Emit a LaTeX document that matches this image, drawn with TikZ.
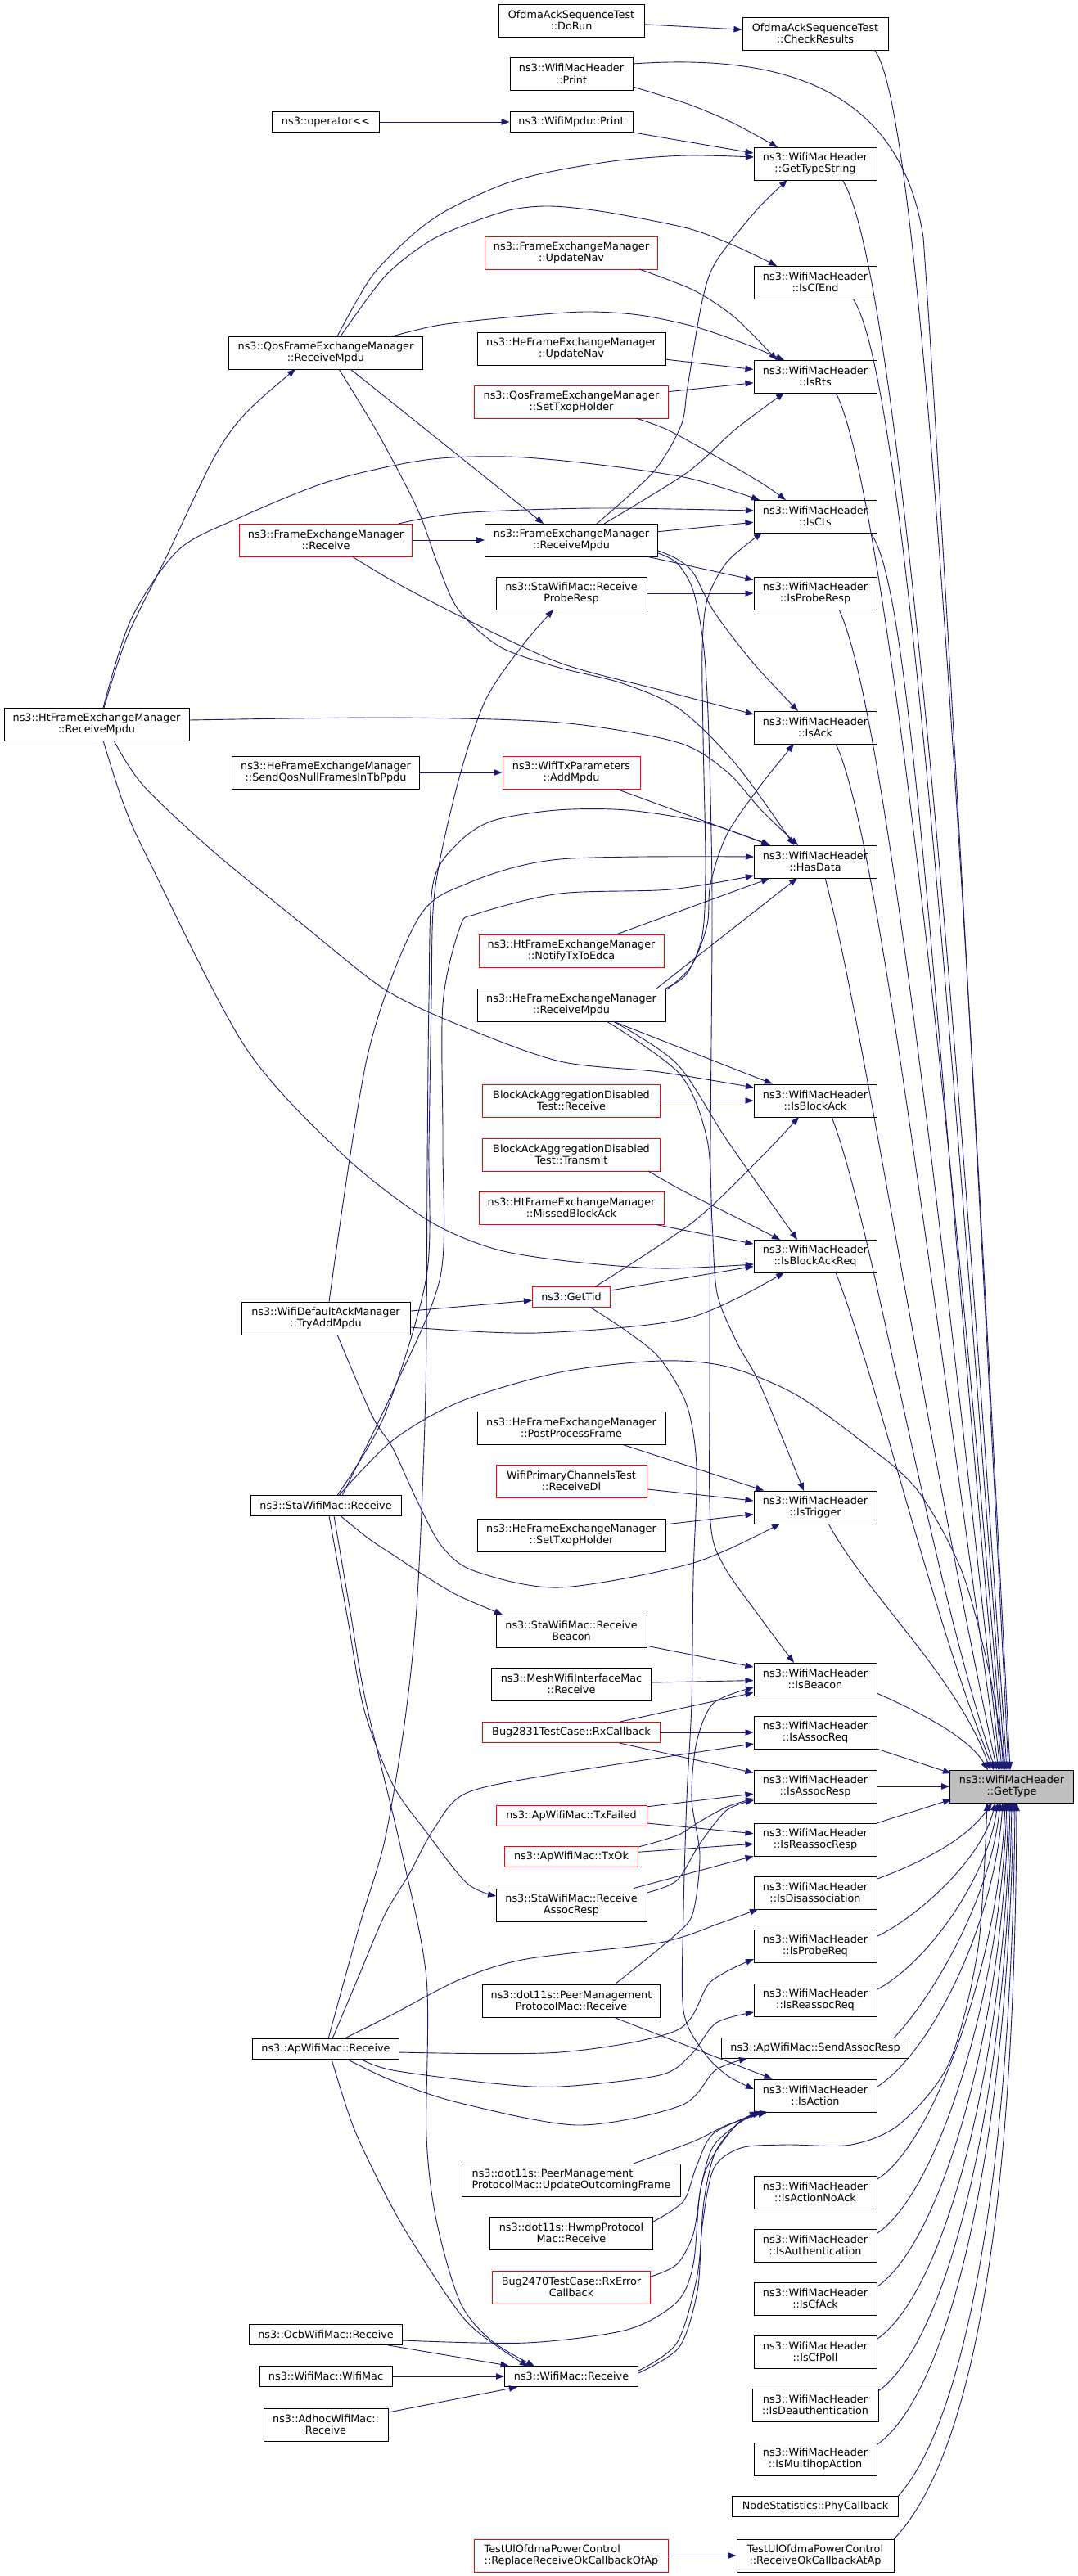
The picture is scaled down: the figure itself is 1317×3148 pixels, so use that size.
\documentclass[tikz,border=0pt]{standalone}
\usepackage{fontspec}
\setmainfont{DejaVu Sans}
\usetikzlibrary{arrows.meta, calc}
\definecolor{edgeblue}{RGB}{25,25,112}
\definecolor{boxgray}{RGB}{191,191,191}
\tikzset{
  fn/.style={draw=black, line width=1pt, fill=white, minimum height=40pt, inner sep=0pt, align=center},
  fn1/.style={fn, minimum height=25pt},
  trunc/.style={draw=red},
  call/.style={draw=edgeblue, line width=0.9pt, -{Triangle[length=10pt,width=7.5pt]}}
}

\begin{document}
\begin{tikzpicture}[x=1pt, y=-1pt, font=\fontsize{12.8}{14.3}\selectfont]
  \fill[white] (0,0) rectangle (1317,3148);
  \useasboundingbox (0,0) rectangle (1317,3148);

  % callers, outer column
  \node[fn, minimum width=226pt] (htRxMpdu) at (118,885) {ns3::HtFrameExchangeManager\\::ReceiveMpdu};

  \node[fn1, minimum width=131pt] (opLess) at (398,149) {ns3::operator\textless{}\textless{}};
  \node[fn, minimum width=237pt] (qosRxMpdu) at (398,431) {ns3::QosFrameExchangeManager\\::ReceiveMpdu};
  \node[fn, trunc, minimum width=211pt] (femRx) at (398,660) {ns3::FrameExchangeManager\\::Receive};
  \node[fn, minimum width=229pt] (heSendQos) at (398,944) {ns3::HeFrameExchangeManager\\::SendQosNullFramesInTbPpdu};
  \node[fn, minimum width=206pt] (ackTryAdd) at (398,1611) {ns3::WifiDefaultAckManager\\::TryAddMpdu};
  \node[fn1, minimum width=184pt] (staRx) at (398,1840) {ns3::StaWifiMac::Receive};
  \node[fn1, minimum width=179pt] (apRx) at (398,2504) {ns3::ApWifiMac::Receive};
  \node[fn1, minimum width=187pt] (ocbRx) at (398,2853) {ns3::OcbWifiMac::Receive};
  \node[fn1, minimum width=162pt] (macCtor) at (398,2904) {ns3::WifiMac::WifiMac};
  \node[fn, minimum width=152pt] (adhocRx) at (398,2963) {ns3::AdhocWifiMac::\\Receive};

  % callers, middle column
  \node[fn, minimum width=178pt] (doRun) at (698,25) {OfdmaAckSequenceTest\\::DoRun};
  \node[fn, minimum width=150pt] (wmhPrint) at (698,90) {ns3::WifiMacHeader\\::Print};
  \node[fn1, minimum width=150pt] (mpduPrint) at (698,149) {ns3::WifiMpdu::Print};
  \node[fn, trunc, minimum width=211pt] (femUpdateNav) at (698,309) {ns3::FrameExchangeManager\\::UpdateNav};
  \node[fn, minimum width=230pt] (heUpdateNav) at (698,426) {ns3::HeFrameExchangeManager\\::UpdateNav};
  \node[fn, trunc, minimum width=237pt] (qosSetTxop) at (698,491) {ns3::QosFrameExchangeManager\\::SetTxopHolder};
  \node[fn, minimum width=211pt] (femRxMpdu) at (698,660) {ns3::FrameExchangeManager\\::ReceiveMpdu};
  \node[fn, minimum width=184pt] (staRxProbeResp) at (698,725) {ns3::StaWifiMac::Receive\\ProbeResp};
  \node[fn, trunc, minimum width=168pt] (addMpdu) at (698,944) {ns3::WifiTxParameters\\::AddMpdu};
  \node[fn, trunc, minimum width=226pt] (notifyTx) at (698,1162) {ns3::HtFrameExchangeManager\\::NotifyTxToEdca};
  \node[fn, minimum width=230pt] (heRxMpdu) at (698,1228) {ns3::HeFrameExchangeManager\\::ReceiveMpdu};
  \node[fn, trunc, minimum width=217pt] (baRx) at (698,1345) {BlockAckAggregationDisabled\\Test::Receive};
  \node[fn, trunc, minimum width=217pt] (baTx) at (698,1411) {BlockAckAggregationDisabled\\Test::Transmit};
  \node[fn, trunc, minimum width=226pt] (missedBa) at (698,1476) {ns3::HtFrameExchangeManager\\::MissedBlockAck};
  \node[fn1, trunc, minimum width=95pt] (getTid) at (698,1585) {ns3::GetTid};
  \node[fn, minimum width=230pt] (postProc) at (698,1745) {ns3::HeFrameExchangeManager\\::PostProcessFrame};
  \node[fn, trunc, minimum width=184pt] (primRxDl) at (698,1810) {WifiPrimaryChannelsTest\\::ReceiveDl};
  \node[fn, minimum width=230pt] (heSetTxop) at (698,1876) {ns3::HeFrameExchangeManager\\::SetTxopHolder};
  \node[fn, minimum width=184pt] (staRxBeacon) at (698,1993) {ns3::StaWifiMac::Receive\\Beacon};
  \node[fn, minimum width=195pt] (meshRx) at (698,2058) {ns3::MeshWifiInterfaceMac\\::Receive};
  \node[fn1, trunc, minimum width=217pt] (bug2831) at (698,2117) {Bug2831TestCase::RxCallback};
  \node[fn1, trunc, minimum width=184pt] (apTxFailed) at (698,2219) {ns3::ApWifiMac::TxFailed};
  \node[fn1, trunc, minimum width=163pt] (apTxOk) at (698,2269) {ns3::ApWifiMac::TxOk};
  \node[fn, minimum width=184pt] (staRxAssocResp) at (698,2328) {ns3::StaWifiMac::Receive\\AssocResp};
  \node[fn, minimum width=217pt] (pmpRx) at (698,2445) {ns3::dot11s::PeerManagement\\ProtocolMac::Receive};
  \node[fn, minimum width=267pt, align=left] (pmpUpdate) at (698,2664) {ns3::dot11s::PeerManagement\\ProtocolMac::UpdateOutcomingFrame};
  \node[fn, minimum width=199pt] (hwmpRx) at (698,2729) {ns3::dot11s::HwmpProtocol\\Mac::Receive};
  \node[fn, trunc, minimum width=193pt] (bug2470) at (698,2795) {Bug2470TestCase::RxError\\Callback};
  \node[fn1, minimum width=163pt] (macRx) at (698,2904) {ns3::WifiMac::Receive};
  \node[fn, trunc, minimum width=237pt, align=left] (replaceRx) at (698,3123) {TestUlOfdmaPowerControl\\::ReplaceReceiveOkCallbackOfAp};

  % direct callers
  \node[fn, minimum width=178pt] (checkRes) at (996,41) {OfdmaAckSequenceTest\\::CheckResults};
  \node[fn, minimum width=150pt] (getTypeStr) at (996,200) {ns3::WifiMacHeader\\::GetTypeString};
  \node[fn, minimum width=150pt] (isCfEnd) at (996,345) {ns3::WifiMacHeader\\::IsCfEnd};
  \node[fn, minimum width=150pt] (isRts) at (996,460) {ns3::WifiMacHeader\\::IsRts};
  \node[fn, minimum width=150pt] (isCts) at (996,631) {ns3::WifiMacHeader\\::IsCts};
  \node[fn, minimum width=150pt] (isProbeResp) at (996,725) {ns3::WifiMacHeader\\::IsProbeResp};
  \node[fn, minimum width=150pt] (isAck) at (996,889) {ns3::WifiMacHeader\\::IsAck};
  \node[fn, minimum width=150pt] (hasData) at (996,1053) {ns3::WifiMacHeader\\::HasData};
  \node[fn, minimum width=150pt] (isBlockAck) at (996,1345) {ns3::WifiMacHeader\\::IsBlockAck};
  \node[fn, minimum width=150pt] (isBlockAckReq) at (996,1535) {ns3::WifiMacHeader\\::IsBlockAckReq};
  \node[fn, minimum width=150pt] (isTrigger) at (996,1842) {ns3::WifiMacHeader\\::IsTrigger};
  \node[fn, minimum width=150pt] (isBeacon) at (996,2052) {ns3::WifiMacHeader\\::IsBeacon};
  \node[fn, minimum width=150pt] (isAssocReq) at (996,2117) {ns3::WifiMacHeader\\::IsAssocReq};
  \node[fn, minimum width=150pt] (isAssocResp) at (996,2183) {ns3::WifiMacHeader\\::IsAssocResp};
  \node[fn, minimum width=150pt] (isReassocResp) at (996,2248) {ns3::WifiMacHeader\\::IsReassocResp};
  \node[fn, minimum width=150pt] (isDisassoc) at (996,2313) {ns3::WifiMacHeader\\::IsDisassociation};
  \node[fn, minimum width=150pt] (isProbeReq) at (996,2378) {ns3::WifiMacHeader\\::IsProbeReq};
  \node[fn, minimum width=150pt] (isReassocReq) at (996,2444) {ns3::WifiMacHeader\\::IsReassocReq};
  \node[fn1, minimum width=229pt] (sendAssocResp) at (996,2503) {ns3::ApWifiMac::SendAssocResp};
  \node[fn, minimum width=150pt] (isAction) at (996,2561) {ns3::WifiMacHeader\\::IsAction};
  \node[fn, minimum width=150pt] (isActionNoAck) at (996,2679) {ns3::WifiMacHeader\\::IsActionNoAck};
  \node[fn, minimum width=150pt] (isAuth) at (996,2744) {ns3::WifiMacHeader\\::IsAuthentication};
  \node[fn, minimum width=150pt] (isCfAck) at (996,2809) {ns3::WifiMacHeader\\::IsCfAck};
  \node[fn, minimum width=150pt] (isCfPoll) at (996,2874) {ns3::WifiMacHeader\\::IsCfPoll};
  \node[fn, minimum width=154pt] (isDeauth) at (996,2939) {ns3::WifiMacHeader\\::IsDeauthentication};
  \node[fn, minimum width=150pt] (isMultihop) at (996,3005) {ns3::WifiMacHeader\\::IsMultihopAction};
  \node[fn1, minimum width=203pt] (phyCb) at (996,3063) {NodeStatistics::PhyCallback};
  \node[fn, minimum width=192pt] (rxOkAtAp) at (996,3123) {TestUlOfdmaPowerControl\\::ReceiveOkCallbackAtAp};

  % the function itself
  \node[fn, fill=boxgray, minimum width=151pt] (getType) at (1236,2183) {ns3::WifiMacHeader\\::GetType};

  % straight edges
  \draw[call] (doRun) -- (checkRes);
  \draw[call] (opLess) -- (mpduPrint);
  \draw[call] (mpduPrint) -- (getTypeStr);
  \draw[call] (heUpdateNav) -- (isRts);
  \draw[call] (qosSetTxop) -- (isRts);
  \draw[call] (femRx) -- (femRxMpdu);
  \draw[call] (femRxMpdu) -- (isCts);
  \draw[call] (femRxMpdu) -- (isProbeResp);
  \draw[call] (staRxProbeResp) -- (isProbeResp);
  \draw[call] (heSendQos) -- (addMpdu);
  \draw[call] (addMpdu) -- (hasData);
  \draw[call] (notifyTx) -- (hasData);
  \draw[call] (heRxMpdu) -- (isBlockAck);
  \draw[call] (baRx) -- (isBlockAck);
  \draw[call] (missedBa) -- (isBlockAckReq);
  \draw[call] (getTid) -- (isBlockAckReq);
  \draw[call] (ackTryAdd) -- (getTid);
  \draw[call] (postProc) -- (isTrigger);
  \draw[call] (primRxDl) -- (isTrigger);
  \draw[call] (heSetTxop) -- (isTrigger);
  \draw[call] (staRxBeacon) -- (isBeacon);
  \draw[call] (meshRx) -- (isBeacon);
  \draw[call] (bug2831) -- (isBeacon);
  \draw[call] (bug2831) -- (isAssocReq);
  \draw[call] (bug2831) -- (isAssocResp);
  \draw[call] (apTxFailed) -- (isAssocResp);
  \draw[call] (apTxFailed) -- (isReassocResp);
  \draw[call] (apTxOk) -- (isReassocResp);
  \draw[call] (staRxAssocResp) -- (isReassocResp);
  \draw[call] (pmpRx) -- (isAction);
  \draw[call] (ocbRx) -- (macRx);
  \draw[call] (macCtor) -- (macRx);
  \draw[call] (adhocRx) -- (macRx);
  \draw[call] (replaceRx) -- (rxOkAtAp);
  \draw[call] ($(qosRxMpdu)+(30,20)$) -- ($(femRxMpdu)+(-34,-20)$);
  \draw[call] ($(heRxMpdu)+(104,-20)$) -- ($(hasData)+(-22,20)$);

  % curved edges
  \draw[call] plot[smooth] coordinates {($(wmhPrint)+(75,16)$) (840,127) (895,150) ($(getTypeStr)+(-46,-20)$)};
  \draw[call] plot[smooth] coordinates {($(qosRxMpdu)+(14,-20)$) (454,338) (504,287) (546,257) (613,226) (672,210) (756,196) (840,190) ($(getTypeStr)+(-75,-8)$)};
  \draw[call] plot[smooth] coordinates {($(qosRxMpdu)+(18,-20)$) (470,338) (521,297) (563,277) (622,257) (672,252) (739,259) (840,279) (899,301) ($(isCfEnd)+(-47,-20)$)};
  \draw[call] plot[smooth] coordinates {($(qosRxMpdu)+(81,-20)$) (538,397) (630,387) (714,381) (781,385) (848,399) (907,419) ($(isRts)+(-38,-20)$)};
  \draw[call] plot[smooth] coordinates {($(qosRxMpdu)+(16,20)$) (462,530) (510,622) (535,690) (560,745) (610,790) (680,815) (760,835) (831,867) (900,935) ($(hasData)+(-26,-20)$)};
  \draw[call] plot[smooth] coordinates {($(htRxMpdu)+(113,-5)$) (480,877) (684,883) (827,907) (888,943) (930,990) ($(hasData)+(-21,-20)$)};
  \draw[call] plot[smooth] coordinates {($(femUpdateNav)+(83,20)$) (848,355) (899,389) ($(isRts)+(-47,-20)$)};
  \draw[call] plot[smooth] coordinates {($(qosSetTxop)+(79,20)$) (815,525) (870,555) (930,590) ($(isCts)+(-36,-20)$)};
  \draw[call] plot[smooth] coordinates {($(femRxMpdu)+(31,-20)$) (798,577) (832,520) (840,473) (857,372) (874,321) (924,257) ($(getTypeStr)+(-34,20)$)};
  \draw[call] plot[smooth] coordinates {($(femRxMpdu)+(40,-20)$) (840,577) (898,525) ($(isRts)+(-38,20)$)};
  \draw[call] plot[smooth] coordinates {($(htRxMpdu)+(9,-20)$) (155,779) (204,679) (261,560) (300,505) ($(qosRxMpdu)+(-37,20)$)};
  \draw[call] plot[smooth] coordinates {($(htRxMpdu)+(8,-20)$) (160,757) (218,672) (294,632) (403,588) (520,562) (620,558) (725,567) (840,584) ($(isCts)+(-68,-20)$)};
  \draw[call] plot[smooth] coordinates {($(femRx)+(89,-20)$) (562,627) (725,621) ($(isCts)+(-75,-7)$)};
  \draw[call] plot[smooth] coordinates {($(femRxMpdu)+(106,13)$) (827,683) (847,700) (872,747) (920,810) ($(isAck)+(-21,-20)$)};
  \draw[call] plot[smooth] coordinates {($(femRxMpdu)+(106,16)$) (827,688) (847,722) (860,793) (866,900) (870,1100) (868,1400) (867,1700) (868,1860) (884,1913) (929,1977) ($(isBeacon)+(-26,-20)$)};
  \draw[call] plot[smooth] coordinates {($(femRx)+(32,20)$) (480,710) (562,753) (684,810) (806,843) ($(isAck)+(-75,-16)$)};
  \draw[call] plot[smooth] coordinates {($(staRx)+(14,-12.5)$) (470,1729) (521,1560) (524,1400) (527,1223) (531,1090) (559,958) (592,858) (635,793) ($(staRxProbeResp)+(-22,20)$)};
  \draw[call] plot[smooth] coordinates {($(ackTryAdd)+(4,-20)$) (449,1290) (510,1124) (570,1080) (684,1050) ($(hasData)+(-75,-6)$)};
  \draw[call] plot[smooth] coordinates {($(staRx)+(20,-12.5)$) (480,1700) (538,1560) (541,1400) (541,1227) (562,1133) (582,1117) (684,1092) (819,1087) ($(hasData)+(-75,17)$)};
  \draw[call] plot[smooth] coordinates {($(apRx)+(3,-12.5)$) (440,2350) (470,2249) (495,2100) (510,1950) (520,1700) (522,1422) (524,1223) (529,1080) (560,1030) (602,1003) (680,990) (766,990) (860,1005) ($(hasData)+(-55,-20)$)};
  \draw[call] plot[smooth] coordinates {($(heRxMpdu)+(115,-20)$) (839,1190) (858,1143) (862,1060) (859,900) (858,793) (864,733) (888,687) ($(isCts)+(-65,20)$)};
  \draw[call] plot[smooth] coordinates {($(heRxMpdu)+(117,-19)$) (845,1180) (864,1130) (868,1080) (888,1020) (929,960) ($(isAck)+(-26,20)$)};
  \draw[call] plot[smooth] coordinates {($(heRxMpdu)+(51,20)$) (827,1300) (888,1393) ($(isBlockAckReq)+(-22,-20)$)};
  \draw[call] plot[smooth] coordinates {($(heRxMpdu)+(43,20)$) (831,1313) (864,1393) (870,1493) (876,1580) (900,1640) (929,1693) ($(isTrigger)+(-14,-20)$)};
  \draw[call] plot[smooth] coordinates {($(htRxMpdu)+(21,20)$) (175,960) (260,1040) (370,1130) (470,1209) (562,1253) (684,1297) (806,1310) ($(isBlockAck)+(-75,-16)$)};
  \draw[call] plot[smooth] coordinates {($(htRxMpdu)+(8,20)$) (150,980) (181,1050) (300,1280) (420,1412) (521,1490) (600,1525) (684,1540) (806,1550) ($(isBlockAckReq)+(-75,10)$)};
  \draw[call] plot[smooth] coordinates {($(baTx)+(94,20)$) (834,1455) (900,1488) ($(isBlockAckReq)+(-43,-20)$)};
  \draw[call] plot[smooth] coordinates {($(getTid)+(29,-12.5)$) (847,1493) (929,1415) ($(isBlockAck)+(-20,20)$)};
  \draw[call] plot[smooth] coordinates {($(getTid)+(23,12.5)$) (766,1627) (806,1660) (839,1717) (851,1793) (847,1927) (845,2080) (839,2198) (835,2336) (835,2457) (860,2508) (888,2536) ($(isAction)+(-75,-8)$)};
  \draw[call] plot[smooth] coordinates {($(ackTryAdd)+(103,11)$) (655,1629) (840,1611) ($(isBlockAckReq)+(-38,20)$)};
  \draw[call] plot[smooth] coordinates {($(ackTryAdd)+(14,20)$) (454,1729) (480,1770) (510,1835) (540,1890) (580,1920) (684,1940) (847,1910) ($(isTrigger)+(-43,20)$)};
  \draw[call] plot[smooth] coordinates {($(staRx)+(18,12.5)$) (450,1880) (480,1900) (521,1927) (560,1950) ($(staRxBeacon)+(-84,-20)$)};
  \draw[call] plot[smooth] coordinates {($(staRx)+(16,-12.5)$) (480,1760) (562,1713) (684,1677) (806,1663) (888,1670) (970,1703) (1051,1760) (1120,1820) (1175,1920) (1210,2050) ($(getType)+(-8,-20)$)};
  \draw[call] plot[smooth] coordinates {($(pmpRx)+(53,-20)$) (827,2363) (847,2336) (855,2267) (845,2198) (851,2129) (872,2081) ($(isBeacon)+(-75,10)$)};
  \draw[call] plot[smooth] coordinates {($(apTxOk)+(82,-12)$) (827,2243) (855,2226) (888,2208) ($(isAssocResp)+(-75,15)$)};
  \draw[call] plot[smooth] coordinates {($(staRxAssocResp)+(92,-15)$) (827,2298) (855,2253) (888,2212) ($(isAssocResp)+(-75,17)$)};
  \draw[call] plot[smooth] coordinates {($(staRx)+(4,12.5)$) (425,1980) (445,2090) (480,2181) (521,2239) (570,2301) ($(staRxAssocResp)+(-92,-11)$)};
  \draw[call] plot[smooth] coordinates {($(staRx)+(10,12.5)$) (428,1970) (447,2080) (490,2260) (521,2418) (521,2610) (533,2713) (562,2813) (600,2860) ($(macRx)+(-45,-12.5)$)};
  \draw[call] plot[smooth] coordinates {($(apRx)+(7,12.5)$) (432,2600) (470,2680) (504,2740) (571,2838) ($(macRx)+(-53,-12.5)$)};
  \draw[call] plot[smooth] coordinates {($(apRx)+(8,-12.5)$) (437,2418) (470,2340) (500,2290) (530,2235) (570,2191) (684,2167) ($(isAssocReq)+(-75,14)$)};
  \draw[call] plot[smooth] coordinates {($(apRx)+(22,-12.5)$) (479,2462) (562,2419) (643,2394) (806,2374) (880,2350) ($(isDisassoc)+(-70,20)$)};
  \draw[call] plot[smooth] coordinates {($(apRx)+(89.5,4)$) (684,2508) (827,2481) (868,2422) ($(isProbeReq)+(-75,16)$)};
  \draw[call] plot[smooth] coordinates {($(apRx)+(43,12.5)$) (480,2530) (602,2546) (684,2550) (806,2536) (845,2510) (875,2472) ($(isReassocReq)+(-75,15)$)};
  \draw[call] plot[smooth] coordinates {($(apRx)+(26,12.5)$) (480,2543) (562,2570) (706,2597) (832,2573) (874,2530) ($(sendAssocResp)+(-83,12.5)$)};
  \draw[call] plot[smooth] coordinates {($(ocbRx)+(93.5,7)$) (643,2863) (766,2847) (827,2813) (847,2767) (855,2680) (868,2640) (900,2596) ($(isAction)+(-70,20)$)};
  \draw[call] plot[smooth] coordinates {($(macRx)+(82,-7)$) (827,2863) (852,2780) (860,2690) (874,2630) (905,2592) ($(isAction)+(-64,20)$)};
  \draw[call] plot[smooth] coordinates {($(macRx)+(82,-4)$) (830,2868) (852,2800) (858,2720) (872,2650) (905,2625) (960,2621) (1040,2621) (1100,2595) (1160,2520) (1195,2380) ($(getType)+(-30,20)$)};
  \draw[call] plot[smooth] coordinates {($(bug2470)+(97,-13)$) (827,2767) (847,2730) (857,2670) (872,2622) (910,2590) ($(isAction)+(-58,20)$)};
  \draw[call] plot[smooth] coordinates {($(hwmpRx)+(100,-14)$) (835,2690) (851,2647) (872,2607) ($(isAction)+(-67,20)$)};
  \draw[call] plot[smooth] coordinates {($(pmpUpdate)+(76,-20)$) (847,2617) (888,2597) ($(isAction)+(-60,20)$)};

  % into GetType from above
  \draw[call] ($(checkRes)+(72,20)$) .. controls (1120,120) and (1170,900) .. ($(getType)+(-2,-20)$);
  \draw[call] ($(wmhPrint)+(75,-12)$) .. controls (960,65) and (1100,110) .. (1128,290) .. controls (1150,600) and (1200,1500) .. ($(getType)+(-4,-20)$);
  \draw[call] ($(getTypeStr)+(33,20)$) .. controls (1090,310) and (1160,1100) .. ($(getType)+(-6,-20)$);
  \draw[call] ($(isCfEnd)+(46,20)$) .. controls (1100,450) and (1155,1150) .. ($(getType)+(-8,-20)$);
  \draw[call] ($(isRts)+(25,20)$) .. controls (1070,570) and (1150,1200) .. ($(getType)+(-10,-20)$);
  \draw[call] ($(isCts)+(67,20)$) .. controls (1115,710) and (1145,1300) .. ($(getType)+(-12,-20)$);
  \draw[call] ($(isProbeResp)+(29,20)$) .. controls (1075,850) and (1140,1400) .. ($(getType)+(-14,-20)$);
  \draw[call] ($(isAck)+(25,20)$) .. controls (1070,1010) and (1135,1550) .. ($(getType)+(-16,-20)$);
  \draw[call] ($(hasData)+(12,20)$) .. controls (1055,1250) and (1130,1750) .. ($(getType)+(-18,-20)$);
  \draw[call] ($(isBlockAck)+(20,20)$) .. controls (1065,1490) and (1130,1900) .. ($(getType)+(-20,-20)$);
  \draw[call] ($(isBlockAckReq)+(25,20)$) .. controls (1070,1680) and (1140,1980) .. ($(getType)+(-22,-20)$);
  \draw[call] ($(isTrigger)+(16,20)$) .. controls (1060,1950) and (1170,2050) .. ($(getType)+(-26,-20)$);
  \draw[call] ($(isBeacon)+(75,17)$) .. controls (1130,2095) and (1185,2125) .. ($(getType)+(-29,-20)$);
  \draw[call] ($(isAssocReq)+(75,20)$) -- ($(getType)+(-74,-16)$);
  \draw[call] (isAssocResp) -- (getType);
  \draw[call] ($(isReassocResp)+(75,-20)$) -- ($(getType)+(-74,16)$);

  % into GetType from below
  \draw[call] ($(isDisassoc)+(76,-17)$) .. controls (1120,2278) and (1180,2250) .. ($(getType)+(-24,20)$);
  \draw[call] ($(isProbeReq)+(76,-12)$) .. controls (1125,2340) and (1200,2270) .. ($(getType)+(-20,20)$);
  \draw[call] ($(isReassocReq)+(76,-13)$) .. controls (1130,2400) and (1205,2300) .. ($(getType)+(-17,20)$);
  \draw[call] ($(sendAssocResp)+(96,-12.5)$) .. controls (1140,2440) and (1210,2320) .. ($(getType)+(-14,20)$);
  \draw[call] ($(isAction)+(76,-11)$) .. controls (1140,2505) and (1215,2350) .. ($(getType)+(-11,20)$);
  \draw[call] ($(isActionNoAck)+(76,-16)$) .. controls (1140,2620) and (1220,2400) .. ($(getType)+(-8,20)$);
  \draw[call] ($(isAuth)+(76,-15)$) .. controls (1145,2680) and (1222,2440) .. ($(getType)+(-6,20)$);
  \draw[call] ($(isCfAck)+(76,-15)$) .. controls (1150,2740) and (1225,2480) .. ($(getType)+(-4,20)$);
  \draw[call] ($(isCfPoll)+(76,-16)$) .. controls (1155,2800) and (1228,2520) .. ($(getType)+(-2,20)$);
  \draw[call] ($(isDeauth)+(77,-17)$) .. controls (1160,2860) and (1230,2560) .. ($(getType)+(0,20)$);
  \draw[call] ($(isMultihop)+(76,-18)$) .. controls (1165,2920) and (1232,2600) .. ($(getType)+(2,20)$);
  \draw[call] ($(phyCb)+(101,-12.5)$) .. controls (1180,2960) and (1236,2650) .. ($(getType)+(4,20)$);
  \draw[call] ($(rxOkAtAp)+(96,-20)$) .. controls (1190,3000) and (1240,2700) .. ($(getType)+(6,20)$);
\end{tikzpicture}
\end{document}
